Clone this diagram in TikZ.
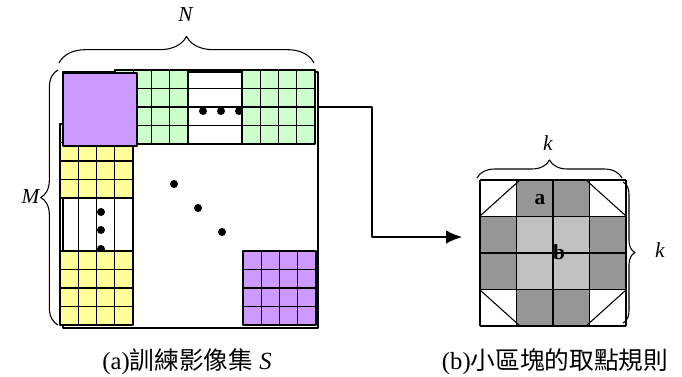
\documentclass[tikz,border=0pt]{standalone}
\usepackage{fontspec}
\setmainfont{Liberation Serif}
\newfontfamily\cjk{Noto Sans CJK TC}
\usetikzlibrary{arrows.meta,decorations.pathreplacing}
\definecolor{lila}{RGB}{204,153,255}
\definecolor{mint}{RGB}{204,255,204}
\definecolor{lemon}{RGB}{255,255,153}
\definecolor{dkgray}{RGB}{150,150,150}
\definecolor{ltgray}{RGB}{192,192,192}
\begin{document}
\begin{tikzpicture}[x=0.75pt,y=-0.75pt,>={Latex[length=12pt,width=10pt]},line join=round,line width=0.8pt,
	font=\fontsize{16}{18}\selectfont,
	brc/.style={decorate,decoration={brace,amplitude=#1}},
	capt/.style={font=\fontsize{18.5}{21}\selectfont}]
	\useasboundingbox (0,0) rectangle (682,376);
	% (a) image S
	\draw (63,72) rectangle (318,328);
	\foreach \y in {70,88.5,107,125.5,144} \draw (188,\y)--(242,\y);
	\foreach \x in {60,78.25,96.5,114.75,133} \draw (\x,198)--(\x,251);
	\foreach \x/\y in {203/111,221/111,239/111,101/212,101/230,101/249,174/184,198/208,222/232}
		\fill (\x,\y) circle (3pt);
	\foreach \x/\y/\c in {115/70/mint,242/70/mint,60/124/lemon,60/251/lemon,243/251/lila}{
		\filldraw[fill=\c] (\x,\y) rectangle ++(73,74);
		\foreach \i in {1,2,3} \draw (\x+\i*18.25,\y)--++(0,74) (\x,\y+\i*18.5)--++(73,0);
	}
	\filldraw[fill=lila] (63,73) rectangle (137,146);
	\draw[brc=20pt] (59,63)--(314,63);
	\node (N) at (186,15) {\textit{N}};
	\draw[brc=13pt] (58,325)--(58,70);
	\node (M) at (31,197) {\textit{M}};
	\node[capt] (capa) at (187,362) {(a){\cjk 訓練影像集} \textit{S}};
	% (b) block
	\foreach \i/\j in {1/0,2/0,0/1,3/1,0/2,3/2,1/3,2/3}
		\fill[dkgray] (480+\i*36.5,180+\j*36.5) rectangle ++(36.5,36.5);
	\fill[ltgray] (516.5,216.5) rectangle (589.5,289.5);
	\foreach \i in {0,...,4} \draw (480+\i*36.5,180)--++(0,146) (480,180+\i*36.5)--++(146,0);
	\draw (520,180)--(586,180)--(626,216)--(626,290)--(586,326)--(520,326)--(480,290)--(480,216)--cycle;
	\node[font=\fontsize{16}{18}\selectfont\bfseries] (a) at (540,200) {a};
	\node[font=\fontsize{16}{18}\selectfont\bfseries] (b) at (559,252) {b};
	\draw[brc=13.5pt] (477,178)--(622,178);
	\node (k1) at (548,143) {\textit{k}};
	\draw[brc=9pt] (623,182)--(623,323);
	\node (k2) at (660,250) {\textit{k}};
	\node[capt] (capb) at (555,362) {(b){\cjk 小區塊的取點規則}};
	% arrow
	\coordinate (out) at (318,107);
	\coordinate (bend) at (372,107);
	\coordinate (in) at (462,237);
	\draw[->] (out)--(bend) |- (in);
\end{tikzpicture}
\end{document}
